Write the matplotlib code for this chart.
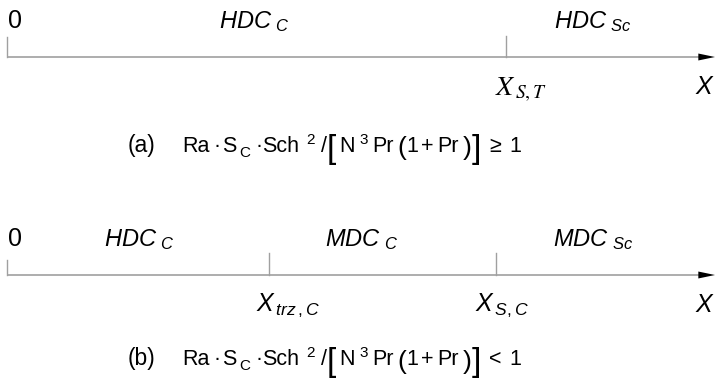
import matplotlib
matplotlib.use("Agg")
import matplotlib.pyplot as plt

plt.rcParams['font.family'] = ['Liberation Sans', 'DejaVu Sans']
plt.rcParams['mathtext.fontset'] = 'custom'
plt.rcParams['mathtext.rm'] = 'Liberation Sans'
plt.rcParams['mathtext.it'] = 'Liberation Sans:italic'
plt.rcParams['mathtext.bf'] = 'Liberation Sans:bold'

# diagram layout, in pixels of the 715x379 picture
axis_rows = [57, 275]                       # y of the two axes
axis_start = 7
axis_end = 715

# (a) case: boundaries and regions
a_ticks = [7, 506]
a_tick_tops = [37, 36]
a_regions = [r'$HDC\;{}_{C}$', r'$HDC\;{}_{Sc}$']
a_region_x = [254, 593]
a_marks = [r'$X_{\,S,T}$']
a_mark_x = [521]

# (b) case
b_ticks = [7, 269, 496]
b_tick_tops = [260, 253, 253]
b_regions = [r'$HDC\;{}_{C}$', r'$MDC\;{}_{C}$', r'$MDC\;{}_{Sc}$']
b_region_x = [139, 362, 593]
b_marks = [r'$X_{\,trz\,,C}$', r'$X_{\,S,C}$']
b_mark_x = [288, 502]

# formula pieces: text, kind
formula_text = ['Ra', '\u00b7', 'S', 'C', '\u00b7', 'Sch', '2', '/', '[',
                'N', '3', 'Pr', '(', '1', '+', 'Pr', ')', ']', 'rel', '1']
formula_kind = ['n', 'n', 'n', 'sub', 'n', 'n', 'sup', 'n', 'big',
                'n', 'sup', 'n', 'mid', 'n', 'n', 'n', 'mid', 'big', 'n', 'n']
formula_x = [182, 214, 222, 239, 256, 262, 306, 321, 327,
             339, 359, 372, 397, 406, 421, 437, 463, 472, 489, 509]
relations = ['\u2265', '<']
formula_baselines = [152, 365]
tags = ['(a)', '(b)']

fig = plt.figure(figsize=(7.15, 3.79), dpi=100)
ax = fig.add_axes([0, 0, 1, 1])
ax.set_xlim(0, 715)
ax.set_ylim(379, 0)
ax.axis('off')

grey = '#a0a0a0'
sizes = {'n': 15.5, 'sub': 11, 'sup': 11, 'big': 24, 'mid': 19}
shifts = {'n': 0, 'sub': 5, 'sup': -8, 'big': 6, 'mid': 3.5}


def draw_formula(yb, tag, rel):
    ax.text(128, yb, tag, fontsize=16.5, ha='left', va='baseline')
    for t, k, fx in zip(formula_text, formula_kind, formula_x):
        if t == 'rel':
            t = rel
        ax.text(fx, yb + shifts[k], t, fontsize=sizes[k], ha='left', va='baseline')


def draw_axis(y, ticks, tops, regions, region_x, marks, mark_x, serif):
    ax.plot([axis_start, axis_end - 16], [y, y], color=grey, lw=1.2, solid_capstyle='butt')
    ax.annotate('', xy=(axis_end, y), xytext=(axis_end - 17, y),
                arrowprops=dict(arrowstyle='-|>,head_length=1.2,head_width=0.25',
                                color='black', lw=0, shrinkA=0, shrinkB=0))
    for tx, top in zip(ticks, tops):
        ax.plot([tx, tx], [top, y], color=grey, lw=1.0)
    ax.text(axis_start + 1, y - 29, '0', fontsize=18, ha='left', va='baseline')
    for lab, lx in zip(regions, region_x):
        ax.text(lx, y - 29, lab, fontsize=17, ha='center', va='baseline')
    for lab, mx in zip(marks, mark_x):
        if serif:
            ax.text(mx, y + 39, lab, fontsize=20, ha='center', va='baseline',
                    math_fontfamily='stix')
        else:
            ax.text(mx, y + 36, lab, fontsize=18, ha='center', va='baseline')
    ax.text(axis_end, y + 37, r'$X$', fontsize=18, ha='right', va='baseline')


draw_axis(axis_rows[0], a_ticks, a_tick_tops, a_regions, a_region_x,
          a_marks, a_mark_x, True)
draw_axis(axis_rows[1], b_ticks, b_tick_tops, b_regions, b_region_x,
          b_marks, b_mark_x, False)
for yb, tag, rel in zip(formula_baselines, tags, relations):
    draw_formula(yb, tag, rel)

fig.savefig('out.png', dpi=100)
